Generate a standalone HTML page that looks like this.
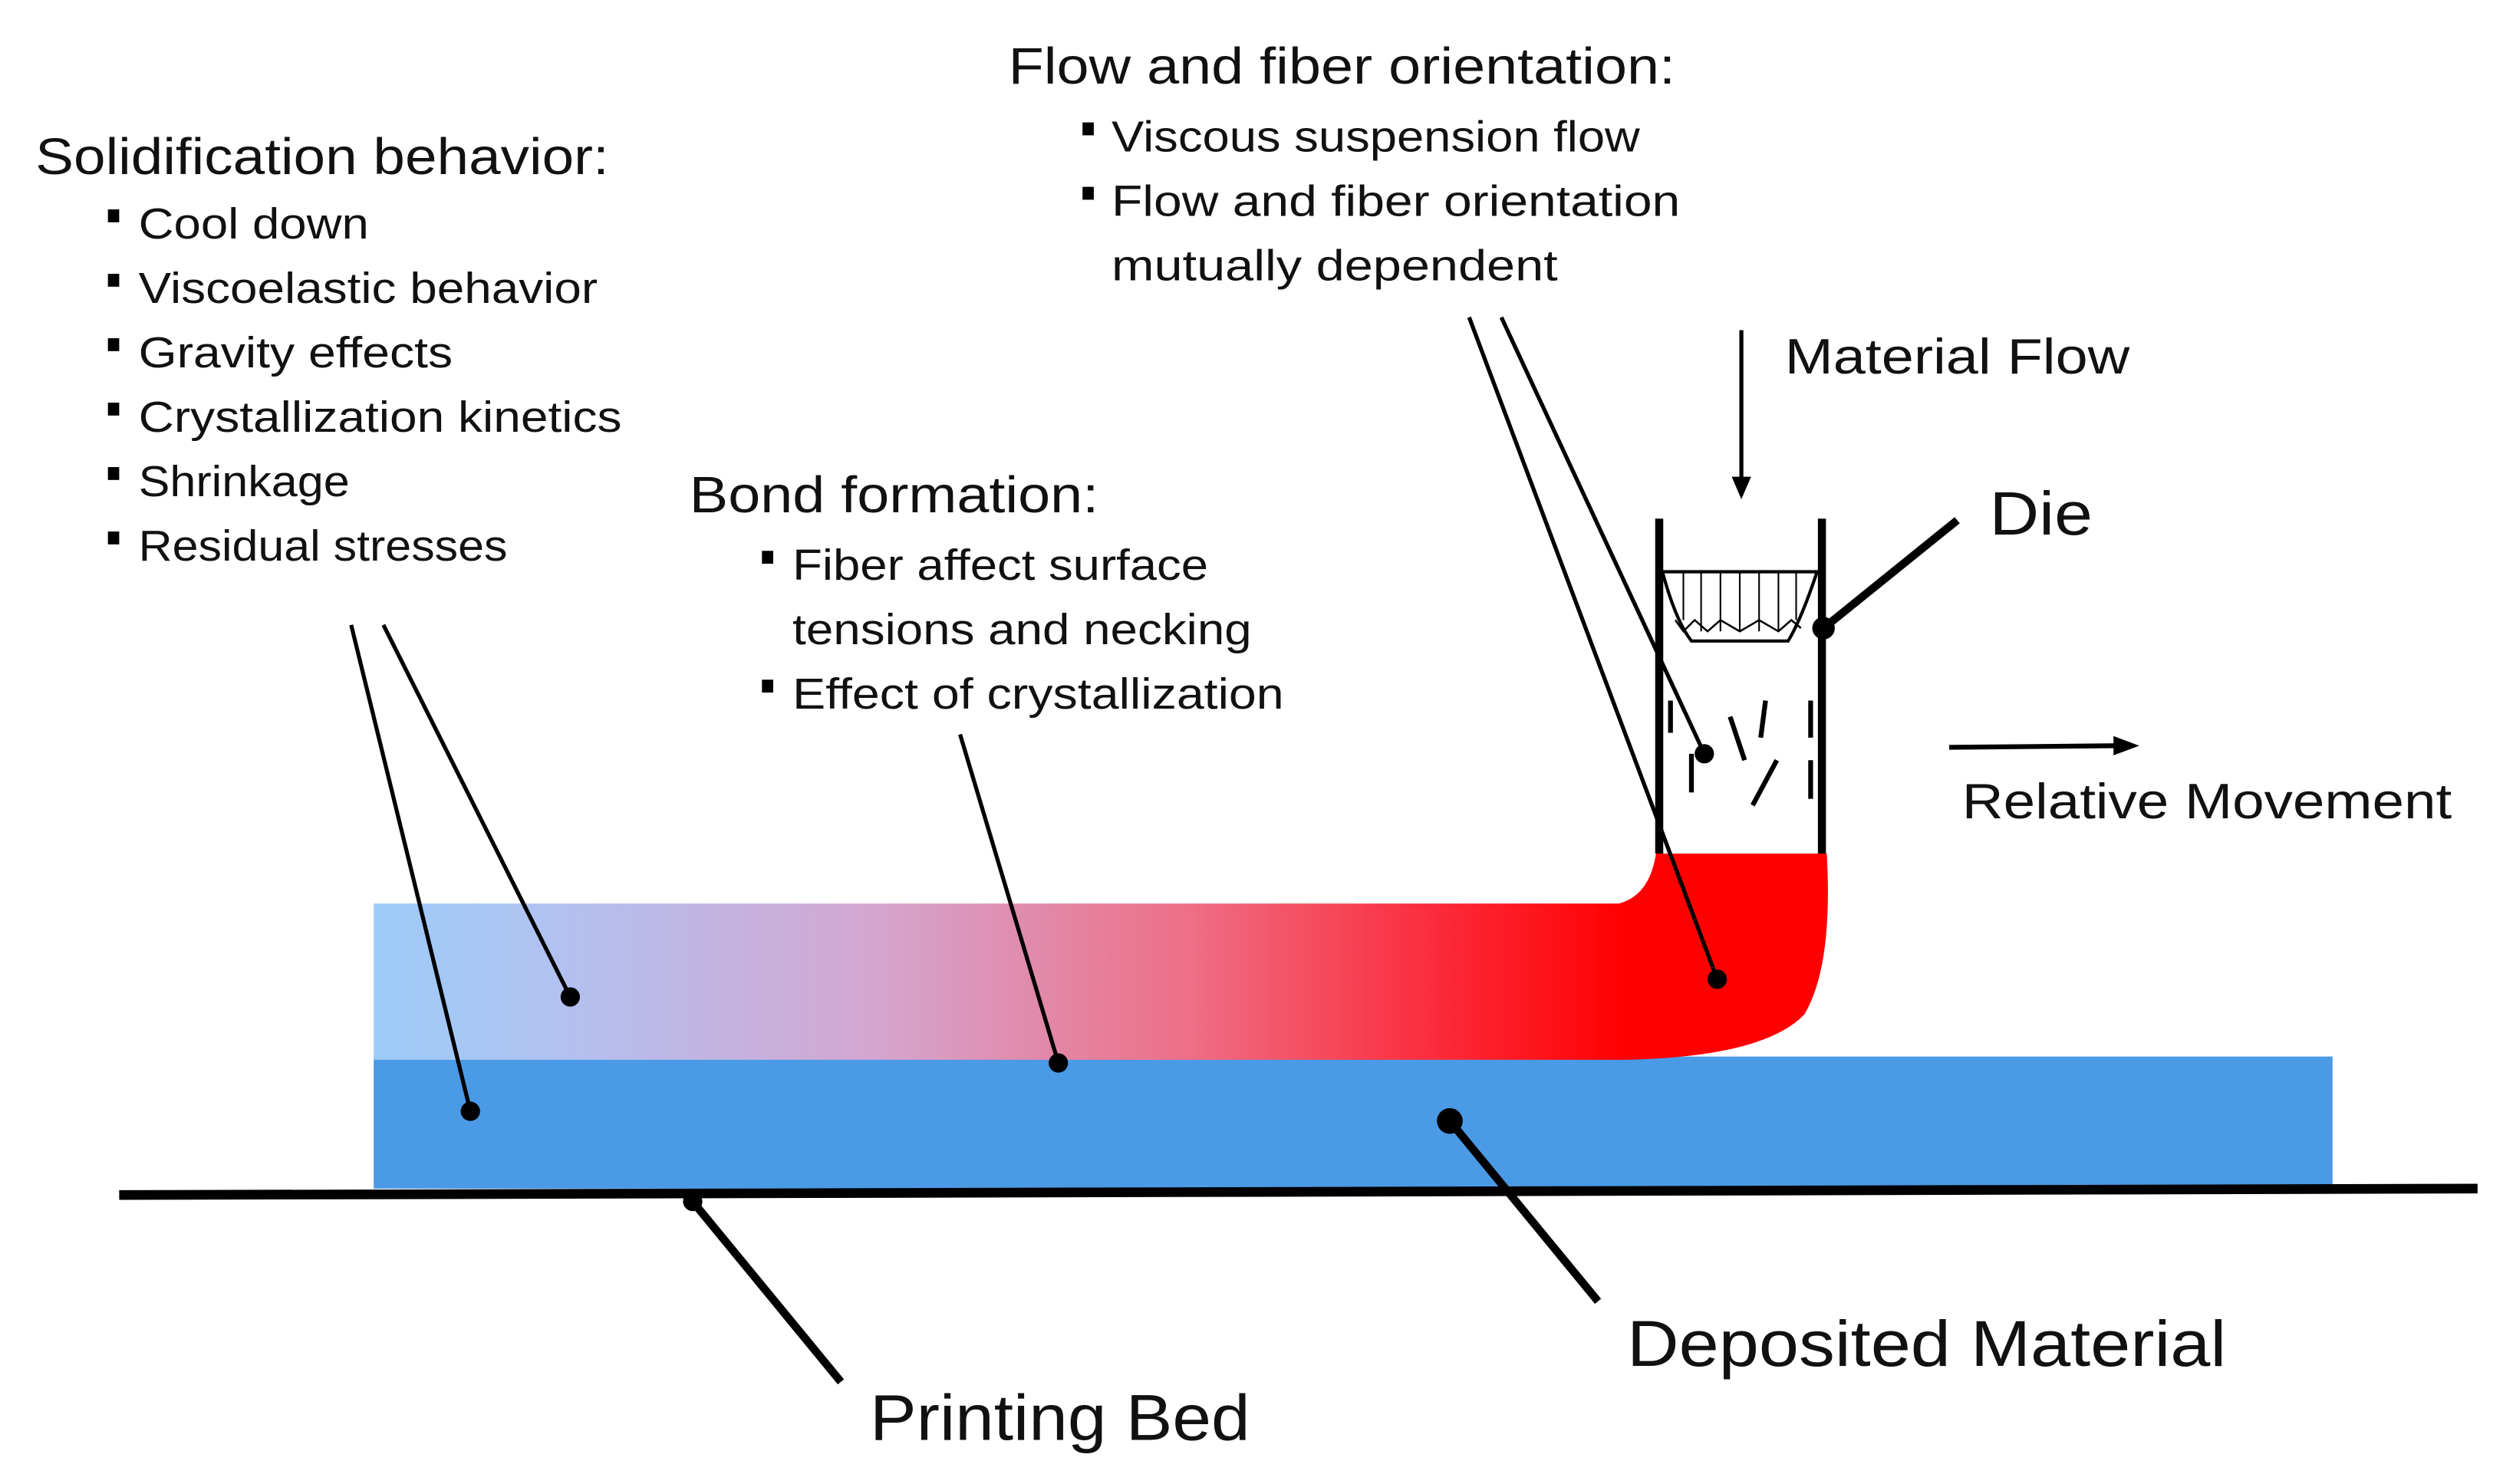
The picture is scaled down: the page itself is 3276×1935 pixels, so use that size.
<!DOCTYPE html>
<html><head><meta charset="utf-8"><style>
html,body{margin:0;padding:0;background:#fff;}
svg{display:block;}
text{font-family:"Liberation Sans",sans-serif;fill:#111;}
</style></head><body>
<svg width="3276" height="1935" viewBox="0 0 1560 921.4" xmlns="http://www.w3.org/2000/svg">
<defs>
<linearGradient id="g" x1="232" x2="1010" y1="0" y2="0" gradientUnits="userSpaceOnUse">
<stop offset="0" stop-color="#9ccbf8"/>
<stop offset="0.15" stop-color="#b2c1f0"/>
<stop offset="0.4" stop-color="#d4a6d0"/>
<stop offset="0.65" stop-color="#ee6f86"/>
<stop offset="0.85" stop-color="#fb2a3a"/>
<stop offset="1" stop-color="#ff0000"/>
</linearGradient>
</defs>
<rect x="232" y="656" width="1216" height="82" fill="#4a9ae6"/>
<path d="M232,561 L1005,561 Q1024,556 1028,530 L1134,530 Q1138,600 1120,630 Q1095,656 1010,658 L232,658 Z" fill="url(#g)"/>
<line x1="74" y1="742" x2="1538" y2="738" stroke="#000" stroke-width="6"/>
<line x1="1030" y1="322" x2="1030" y2="530" stroke="#000" stroke-width="5"/>
<line x1="1131" y1="322" x2="1131" y2="530" stroke="#000" stroke-width="5"/>
<path d="M1032,355 L1128,355 Q1118,385 1110,398 L1050,398 Q1040,385 1032,355 Z" fill="none" stroke="#000" stroke-width="2"/>
<g stroke="#000" stroke-width="1">
<line x1="1045" y1="355" x2="1045" y2="385"/><line x1="1056" y1="355" x2="1056" y2="392"/>
<line x1="1068" y1="355" x2="1068" y2="392"/><line x1="1080" y1="355" x2="1080" y2="392"/>
<line x1="1092" y1="355" x2="1092" y2="392"/><line x1="1104" y1="355" x2="1104" y2="392"/>
<line x1="1115" y1="355" x2="1115" y2="385"/>
</g>
<path d="M1040,385 L1045,392 L1052,385 L1060,392 L1068,385 L1080,392 L1092,385 L1104,392 L1112,385 L1118,390" fill="none" stroke="#000" stroke-width="1.2"/>
<g stroke="#000" stroke-width="3">
<line x1="1037" y1="435" x2="1037" y2="455"/><line x1="1050" y1="468" x2="1050" y2="492"/>
<line x1="1074" y1="445" x2="1083" y2="472"/><line x1="1096" y1="435" x2="1093" y2="458"/>
<line x1="1103" y1="472" x2="1088" y2="500"/>
<line x1="1124" y1="435" x2="1124" y2="458"/><line x1="1124" y1="472" x2="1124" y2="496"/>
</g>
<line x1="1081" y1="205" x2="1081" y2="298" stroke="#000" stroke-width="2.5"/>
<path d="M1075,296 L1087,296 L1081,310 Z" fill="#000"/>
<line x1="1210" y1="464" x2="1315" y2="463" stroke="#000" stroke-width="3"/>
<path d="M1312,457 L1328,463 L1312,469 Z" fill="#000"/>
<line x1="1132" y1="390" x2="1215" y2="323" stroke="#000" stroke-width="5"/>
<circle cx="1132" cy="390" r="7" fill="#000"/>
<g stroke="#000" stroke-width="2.5" fill="none">
<line x1="912" y1="197" x2="1066" y2="608"/>
<line x1="932" y1="197" x2="1058" y2="468"/>
<line x1="218" y1="388" x2="292" y2="690"/>
<line x1="238" y1="388" x2="354" y2="619"/>
<line x1="596" y1="456" x2="657" y2="660"/>
</g>
<line x1="900" y1="696" x2="992" y2="808" stroke="#000" stroke-width="5"/>
<line x1="430" y1="746" x2="522" y2="858" stroke="#000" stroke-width="5"/>
<g fill="#000">
<circle cx="1066" cy="608" r="6"/><circle cx="1058" cy="468" r="6"/>
<circle cx="292" cy="690" r="6"/><circle cx="354" cy="619" r="6"/>
<circle cx="657" cy="660" r="6"/><circle cx="900" cy="696" r="8"/>
<circle cx="430" cy="746" r="6"/>
</g>
<g fill="#000">
<rect x="67" y="130" width="7" height="8"/><rect x="67" y="170" width="7" height="8"/>
<rect x="67" y="210" width="7" height="8"/><rect x="67" y="250" width="7" height="8"/>
<rect x="67" y="290" width="7" height="8"/><rect x="67" y="330" width="7" height="8"/>
<rect x="473" y="342" width="7" height="8"/><rect x="473" y="422" width="7" height="8"/>
<rect x="672" y="76" width="7" height="8"/><rect x="672" y="116" width="7" height="8"/>
</g>
<text x="22" y="108" font-size="32" textLength="356" lengthAdjust="spacingAndGlyphs">Solidification behavior:</text>
<g font-size="27">
<text x="86" y="148" textLength="143" lengthAdjust="spacingAndGlyphs">Cool down</text>
<text x="86" y="188" textLength="285" lengthAdjust="spacingAndGlyphs">Viscoelastic behavior</text>
<text x="86" y="228" textLength="195" lengthAdjust="spacingAndGlyphs">Gravity effects</text>
<text x="86" y="268" textLength="300" lengthAdjust="spacingAndGlyphs">Crystallization kinetics</text>
<text x="86" y="308" textLength="131" lengthAdjust="spacingAndGlyphs">Shrinkage</text>
<text x="86" y="348" textLength="229" lengthAdjust="spacingAndGlyphs">Residual stresses</text>
</g>
<text x="428" y="318" font-size="32" textLength="254" lengthAdjust="spacingAndGlyphs">Bond formation:</text>
<g font-size="27">
<text x="492" y="360" textLength="258" lengthAdjust="spacingAndGlyphs">Fiber affect surface</text>
<text x="492" y="400" textLength="285" lengthAdjust="spacingAndGlyphs">tensions and necking</text>
<text x="492" y="440" textLength="305" lengthAdjust="spacingAndGlyphs">Effect of crystallization</text>
</g>
<text x="626" y="52" font-size="32" textLength="414" lengthAdjust="spacingAndGlyphs">Flow and fiber orientation:</text>
<g font-size="27">
<text x="690" y="94" textLength="328" lengthAdjust="spacingAndGlyphs">Viscous suspension flow</text>
<text x="690" y="134" textLength="353" lengthAdjust="spacingAndGlyphs">Flow and fiber orientation</text>
<text x="690" y="174" textLength="277" lengthAdjust="spacingAndGlyphs">mutually dependent</text>
</g>
<text x="1108" y="232" font-size="31" textLength="214" lengthAdjust="spacingAndGlyphs">Material Flow</text>
<text x="1235" y="332" font-size="38" textLength="64" lengthAdjust="spacingAndGlyphs">Die</text>
<text x="1218" y="508" font-size="31" textLength="304" lengthAdjust="spacingAndGlyphs">Relative Movement</text>
<text x="1010" y="848" font-size="40" textLength="372" lengthAdjust="spacingAndGlyphs">Deposited Material</text>
<text x="540" y="894" font-size="40" textLength="236" lengthAdjust="spacingAndGlyphs">Printing Bed</text>
</svg>
</body></html>
